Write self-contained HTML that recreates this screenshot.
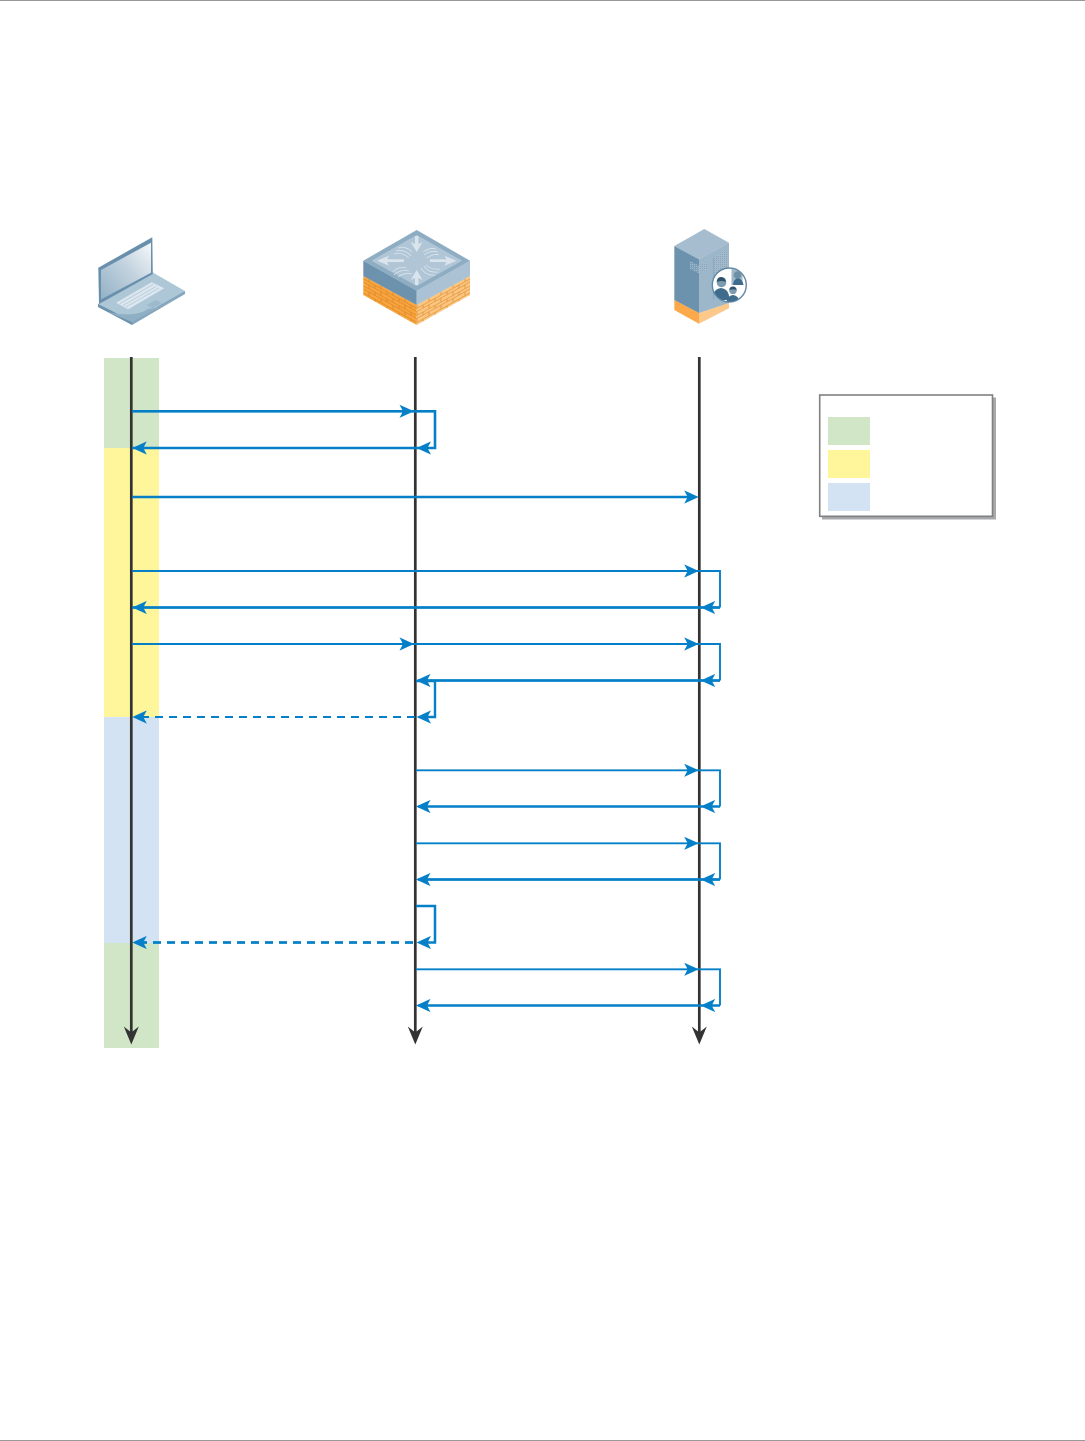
<!DOCTYPE html>
<html>
<head>
<meta charset="utf-8">
<style>
html,body{margin:0;padding:0;background:#fff;width:1085px;height:1441px;overflow:hidden}
svg{display:block}
</style>
</head>
<body>
<svg width="1085" height="1441" viewBox="0 0 1085 1441" xmlns="http://www.w3.org/2000/svg">
<defs>
<polygon id="hr" points="0,0 -14.5,-6.6 -11,0 -14.5,6.6" fill="#0580c8"/>
<polygon id="hl" points="0,0 14.5,-6.6 11,0 14.5,6.6" fill="#0580c8"/>
<polygon id="hd" points="0,0 -7.5,-18 0,-12 7.5,-18" fill="#333"/>
<linearGradient id="scr" x1="0" y1="1" x2="1" y2="0">
<stop offset="0" stop-color="#93b1c6"/><stop offset=".55" stop-color="#c3d3df"/><stop offset="1" stop-color="#f6f8fa"/>
</linearGradient>
<pattern id="vent" width="2" height="2" patternUnits="userSpaceOnUse">
<rect width="2" height="2" fill="#a3bacc"/><rect width="1" height="1" fill="#8aa5ba"/>
</pattern>
<pattern id="ventL" width="2" height="2" patternUnits="userSpaceOnUse">
<rect width="2" height="2" fill="#7d9fb8"/><rect width="1" height="1" fill="#a5bccd"/>
</pattern>
<pattern id="brickL" width="12" height="7" patternUnits="userSpaceOnUse" patternTransform="skewY(29)">
<rect width="12" height="7" fill="#f9a53e"/>
<path d="M0 .5H12M0 3.5H12M3 .5V3.5M9 3.5V7" stroke="#d9862a" stroke-width=".8" fill="none"/>
</pattern>
<pattern id="brickR" width="12" height="7" patternUnits="userSpaceOnUse" patternTransform="skewY(-29)">
<rect width="12" height="7" fill="#fdc67e"/>
<path d="M0 .5H12M0 3.5H12M3 .5V3.5M9 3.5V7" stroke="#dd9440" stroke-width=".8" fill="none"/>
</pattern>
<clipPath id="cc"><circle cx="729.3" cy="285" r="16.5"/></clipPath>
</defs>

<rect x="0" y="0" width="1085" height="1" fill="#999"/>
<rect x="0" y="1440" width="1085" height="1" fill="#999"/>

<!-- Laptop -->
<polygon points="98,304 132,325 185,293 152,273" fill="#a4bfd1"/>
<polygon points="98,304 132,321 185,291 152,272" fill="#aec7d7"/>
<polygon points="98,304 98,307 132,325 132,321" fill="#6c92ad"/>
<polygon points="132,321 132,325 185,294 185,291" fill="#84a6bd"/>
<path d="M108,312 Q135,318 148,309 Q165,307 180,296 L132,322 Z" fill="#8fafc4"/>
<polygon points="98.3,267.7 152.3,237.3 152.8,274 99,304" fill="#688fab"/>
<polygon points="101,270 151,242.7 151,272.7 101,299.5" fill="url(#scr)"/>
<polygon points="116,302.7 151.7,282.3 164.3,288.3 128.3,309.3" fill="#dbe6ee"/>
<path d="M120,303.5 L153,284.5 M123,305.5 L156,286.5 M126,307 L159,288" stroke="#a9c3d4" stroke-width=".6" fill="none"/>
<polygon points="146.5,305 156,300 161.7,303.3 152.3,308.3" fill="#9dbacd"/>

<!-- Firewall -->
<polygon points="363.3,276 416.7,305 416.7,325 363.3,295" fill="url(#brickL)"/>
<polygon points="416.7,305 470,276 470,295 416.7,325" fill="url(#brickR)"/>
<polygon points="363.3,260.7 416.7,290.7 416.7,305 363.3,276" fill="#6d92ae"/>
<polygon points="416.7,290.7 470,260.7 470,276 416.7,305" fill="#aac2d3"/>
<polygon points="416.7,230 470,260.7 416.7,290.7 363.3,260.7" fill="#8eadc3"/>
<polygon points="416.7,235 462,260.7 416.7,286 371.5,260.7" fill="#b0c6d6"/>
<g fill="#d9e4ec">
<polygon points="415,236 418.4,236 418.4,244 422.7,242 416.7,252 410.7,242 415,244"/>
<polygon points="415,285 418.4,285 418.4,278 422.7,280 416.7,270 410.7,280 415,278"/>
<polygon points="377,260.7 389,255.7 387,259.3 404,259.3 404,262 387,262 389,265.7"/>
<polygon points="456.5,260.7 444.5,255.7 446.5,259.3 430,259.3 430,262 446.5,262 444.5,265.7"/>
</g>
<g fill="none" stroke="#d9e4ec" stroke-width=".8">
<path d="M396,251 Q405,249 411,256 M398,248 Q407,246 412,252 M394,254 Q403,252 409,258"/>
<path d="M424,255 Q430,250 438,252 M423,252 Q430,247 436,249 M427,258 Q434,253 439,255"/>
<path d="M393,272 Q398,266 406,268 M394,275 Q400,269 409,271 M398,277 Q404,272 412,274"/>
<path d="M424,266 Q428,273 438,272 M426,265 Q431,270 440,269 M421,268 Q426,276 435,275"/>
</g>

<!-- Server -->
<polygon points="674.3,300 699,313 699,323.7 674.3,310" fill="#fba94b"/>
<polygon points="699,313 729,303 729,308.3 699,323.7" fill="#fdc98a"/>
<polygon points="674.3,246 699,259.3 699,313 674.3,300" fill="#6d92ae"/>
<polygon points="699,259.3 729,242.7 729,303 699,313" fill="#9db7ca"/>
<polygon points="704.3,229 729,242.7 699,259.3 674.3,246" fill="#a5bdcf"/>
<polygon points="690,261 699,265.5 699,273.5 690,269" fill="url(#ventL)"/>
<polygon points="699,265.5 707.5,261 707.5,269 699,273.5" fill="url(#vent)"/>
<polygon points="714,257 728,249.5 728,275 714,282" fill="url(#vent)"/>
<line x1="713.3" y1="258" x2="713.3" y2="300" stroke="#84a3ba" stroke-width=".7"/>
<circle cx="729.3" cy="285" r="17" fill="#fff" stroke="#5f87a3" stroke-width="1.4"/>
<g clip-path="url(#cc)">
<rect x="731.5" y="269" width="11" height="16" fill="#9db7ca"/>
<path d="M733,285 Q733.5,279 738,278 Q742.5,279 743.5,285 Z" fill="#3f6c8c"/>
<circle cx="737.5" cy="275" r="3.8" fill="#6f8fa6"/>
<path d="M713,296 Q714,289 721,288 Q728,289 729,296 L729,300 H713 Z" fill="#3f6c8c"/>
<circle cx="721.5" cy="282.5" r="4.8" fill="#7d9bb0"/>
<path d="M716.7,282 Q717,276.5 721.5,277 Q726,277.5 726,282 Q721.5,280 716.7,282Z" fill="#2f536d"/>
<path d="M726.5,302 Q727.5,295.5 733,295 Q738.5,295.5 739.5,302 Z" fill="#3f6c8c"/>
<circle cx="733" cy="290.5" r="3.8" fill="#7d9bb0"/>
<path d="M729.2,290 Q729.7,286.3 733,286.5 Q736.3,286.7 736.8,290 Q733,288.7 729.2,290Z" fill="#2f536d"/>
</g>

<!-- Bands -->
<rect x="104" y="358" width="55" height="90" fill="#d0e6c6"/>
<rect x="104" y="448" width="55" height="269" fill="#fff69b"/>
<rect x="104" y="717" width="55" height="226" fill="#d3e3f3"/>
<rect x="104" y="943" width="55" height="105" fill="#d0e6c6"/>

<!-- Lifelines -->
<g stroke="#333" stroke-width="2.7" fill="none">
<line x1="131.3" y1="357" x2="131.3" y2="1034"/>
<line x1="415.3" y1="357" x2="415.3" y2="1034"/>
<line x1="699.3" y1="357" x2="699.3" y2="1034"/>
</g>
<use href="#hd" x="131.3" y="1044.5"/>
<use href="#hd" x="415.3" y="1044.5"/>
<use href="#hd" x="699.3" y="1044.5"/>

<!-- Messages -->
<g fill="none" stroke="#0580c8" stroke-linejoin="miter">
<path d="M132,411.3H435V448H132" stroke-width="2.6"/>
<line x1="132" y1="497" x2="695" y2="497" stroke-width="2.6"/>
<path d="M132,571H720V607.5" stroke-width="1.9"/>
<path d="M720,607.5H132" stroke-width="2.8"/>
<path d="M132,644H720V680.5" stroke-width="1.9"/>
<path d="M720,680.5H418" stroke-width="2.7"/>
<path d="M416,681H435V717H420" stroke-width="2.4"/>
<line x1="415" y1="717" x2="139" y2="717" stroke-width="2" stroke-dasharray="8 6"/>
<path d="M416,770.3H720V806.5" stroke-width="1.9"/>
<path d="M720,806.5H418" stroke-width="2.6"/>
<path d="M416,843.3H720V879.5" stroke-width="1.9"/>
<path d="M720,879.5H418" stroke-width="2.8"/>
<path d="M416,906H435V942.5H420" stroke-width="2.5"/>
<line x1="413" y1="942.5" x2="140" y2="942.5" stroke-width="2.8" stroke-dasharray="8 6"/>
<path d="M416,969.3H720V1005.5" stroke-width="1.9"/>
<path d="M720,1005.5H418" stroke-width="2.6"/>
</g>
<use href="#hr" x="414" y="411.3"/>
<use href="#hl" x="416.5" y="448"/>
<use href="#hl" x="132.3" y="448"/>
<use href="#hr" x="698.7" y="497"/>
<use href="#hr" x="698.7" y="571"/>
<use href="#hl" x="700.7" y="607.5"/>
<use href="#hl" x="132.3" y="607.5"/>
<use href="#hr" x="414" y="644"/>
<use href="#hr" x="698.7" y="644"/>
<use href="#hl" x="700.7" y="680.5"/>
<use href="#hl" x="416" y="680.5"/>
<use href="#hl" x="416.5" y="717"/>
<use href="#hl" x="132.3" y="717"/>
<use href="#hr" x="698.7" y="770.3"/>
<use href="#hl" x="700.7" y="806.5"/>
<use href="#hl" x="416" y="806.5"/>
<use href="#hr" x="698.7" y="843.3"/>
<use href="#hl" x="700.7" y="879.5"/>
<use href="#hl" x="416" y="879.5"/>
<use href="#hl" x="416.5" y="942.5"/>
<use href="#hl" x="132.3" y="942.5"/>
<use href="#hr" x="698.7" y="969.3"/>
<use href="#hl" x="700.7" y="1005.5"/>
<use href="#hl" x="416" y="1005.5"/>

<!-- Legend -->
<rect x="822" y="397.5" width="174" height="122" fill="#a7a9ac"/>
<rect x="819.7" y="395" width="172.8" height="121.3" fill="#fff" stroke="#808080" stroke-width="1.6"/>
<rect x="828" y="417" width="42" height="28" fill="#d0e6c6"/>
<rect x="828" y="450" width="42" height="28" fill="#fff69b"/>
<rect x="828" y="483" width="42" height="28" fill="#d3e3f3"/>
</svg>
</body>
</html>
